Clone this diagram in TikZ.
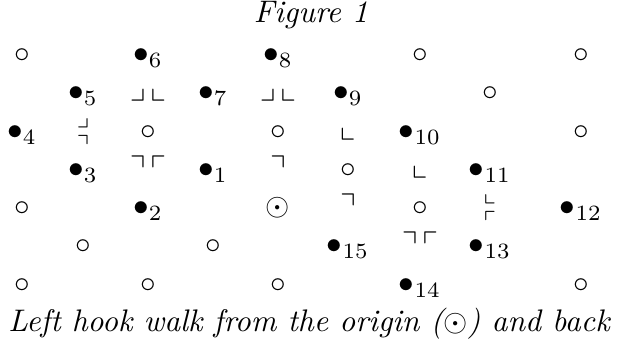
\documentclass[tikz,border=0pt]{standalone}
\usepackage{amssymb}
\usepackage{amsmath}
\begin{document}
\begin{tikzpicture}[x=0.3205pt,y=-0.3205pt,
  pt/.style={anchor=base,inner sep=0pt,outer sep=0pt},
  ttl/.style={anchor=base,inner sep=0pt,font=\itshape}]
\useasboundingbox (0,0) rectangle (619,346);
% title and caption
\node[ttl] (title) at (311,22) {Figure 1};
\node[ttl] (caption) at (309,331) {Left hook walk from the origin ($\odot$) and back};
% row 1
\node[pt] (a11) at (22,62.5) {$\circ$};
\node[pt] (p6) at (148,62.5) {$\bullet_{6}$};
\node[pt] (p8) at (278,62.5) {$\bullet_{8}$};
\node[pt] (a17) at (420,62.5) {$\circ$};
\node[pt] (a19) at (581,62.5) {$\circ$};
% row 2
\node[pt] (p5) at (83,100.5) {$\bullet_{5}$};
\node[pt] (k23) at (148,100.5) {$\lrcorner\,\llcorner$};
\node[pt] (p7) at (213,100.5) {$\bullet_{7}$};
\node[pt] (k25) at (278,100.5) {$\lrcorner\,\llcorner$};
\node[pt] (p9) at (348,100.5) {$\bullet_{9}$};
\node[pt] (a28) at (490,100.5) {$\circ$};
% row 3
\node[pt] (p4) at (22,139.5) {$\bullet_{4}$};
\node[pt] (k32a) at (83,127.5) {$\scriptstyle\lrcorner$};
\node[pt] (k32b) at (83,150) {$\scriptstyle\urcorner$};
\node[pt] (a33) at (148,139.5) {$\circ$};
\node[pt] (a35) at (278,139.5) {$\circ$};
\node[pt] (k36) at (348,139.5) {$\llcorner$};
\node[pt] (p10) at (420,139.5) {$\bullet_{10}$};
\node[pt] (a39) at (581,139.5) {$\circ$};
% row 4
\node[pt] (p3) at (83,177.5) {$\bullet_{3}$};
\node[pt] (k43) at (148,177.5) {$\urcorner\,\ulcorner$};
\node[pt] (p1) at (213,177.5) {$\bullet_{1}$};
\node[pt] (k45) at (278,177.5) {$\urcorner$};
\node[pt] (a46) at (348,177.5) {$\circ$};
\node[pt] (k47) at (420,177.5) {$\llcorner$};
\node[pt] (p11) at (490,177.5) {$\bullet_{11}$};
% row 5
\node[pt] (a51) at (22,215.5) {$\circ$};
\node[pt] (p2) at (148,215.5) {$\bullet_{2}$};
\node[pt] (origin) at (278,215.5) {$\odot$};
\node[pt] (k56) at (348,215.5) {$\urcorner$};
\node[pt] (a57) at (420,215.5) {$\circ$};
\node[pt] (k58a) at (490,203.5) {$\scriptstyle\llcorner$};
\node[pt] (k58b) at (490,226) {$\scriptstyle\ulcorner$};
\node[pt] (p12) at (581,215.5) {$\bullet_{12}$};
% row 6
\node[pt] (a62) at (83,253.5) {$\circ$};
\node[pt] (a64) at (213,253.5) {$\circ$};
\node[pt] (p15) at (348,253.5) {$\bullet_{15}$};
\node[pt] (k67) at (420,253.5) {$\urcorner\,\ulcorner$};
\node[pt] (p13) at (490,253.5) {$\bullet_{13}$};
% row 7
\node[pt] (a71) at (22,292.5) {$\circ$};
\node[pt] (a73) at (148,292.5) {$\circ$};
\node[pt] (a75) at (278,292.5) {$\circ$};
\node[pt] (p14) at (420,292.5) {$\bullet_{14}$};
\node[pt] (a79) at (581,292.5) {$\circ$};
\end{tikzpicture}
\end{document}
